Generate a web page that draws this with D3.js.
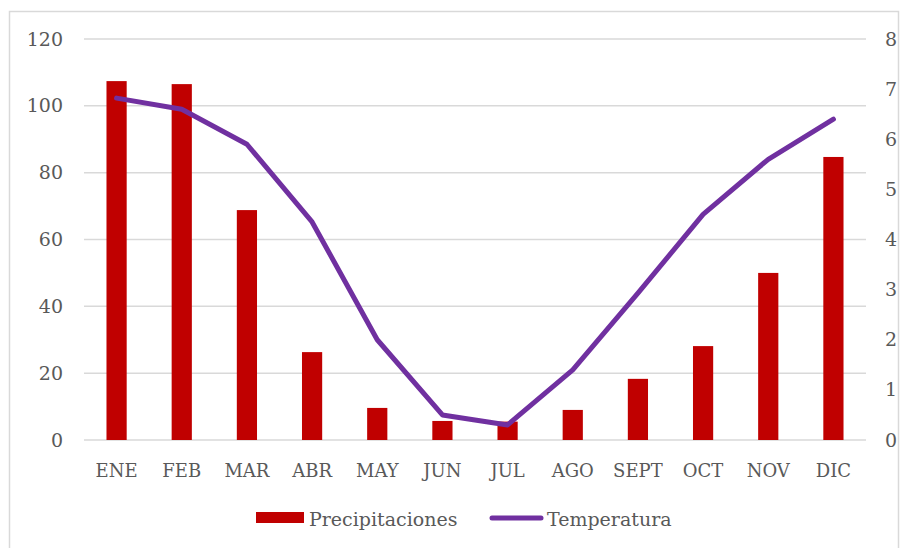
<!DOCTYPE html>
<html><head><meta charset="utf-8">
<script src="https://cdn.jsdelivr.net/npm/d3@7"></script>
<style>body{margin:0;background:#fff}svg{display:block}text{font-family:"DejaVu Serif",serif;fill:#595959}</style>
</head><body><svg id="c" width="903" height="548"></svg>
<script>
const categories = ["ENE","FEB","MAR","ABR","MAY","JUN","JUL","AGO","SEPT","OCT","NOV","DIC"];
const precipitaciones = [107.4,106.5,68.8,26.3,9.6,5.7,5.5,9,18.3,28.1,50,84.7];
const temperatura = [6.82,6.6,5.9,4.35,2.0,0.5,0.3,1.4,2.93,4.5,5.6,6.4];
const leftTicks = [0,20,40,60,80,100,120];
const rightTicks = [0,1,2,3,4,5,6,7,8];
const seriesNames = ["Precipitaciones","Temperatura"];

const svg = d3.select("#c");
svg.append("rect").attr("x",9.5).attr("y",11.5).attr("width",889).attr("height",545)
  .attr("fill","none").attr("stroke","#d9d9d9").attr("stroke-width",1.5);
const L=84,R=866,T=39,B=440;
const x = d3.scaleBand().domain(categories).range([L,R]).paddingInner(0.69).paddingOuter(0.345);
const yL = d3.scaleLinear().domain([0,120]).range([B,T]);
const yR = d3.scaleLinear().domain([0,8]).range([B,T]);

// gridlines
svg.append("g").selectAll("line").data(leftTicks).join("line")
  .attr("x1",L).attr("x2",R).attr("y1",d=>yL(d)).attr("y2",d=>yL(d))
  .attr("stroke","#d9d9d9").attr("stroke-width",1.5);

// left axis labels
const la = svg.append("g").attr("transform",`translate(${L-21},0)`)
  .call(d3.axisLeft(yL).tickValues(leftTicks).tickSize(0).tickPadding(0));
la.select(".domain").remove();
la.selectAll("text").attr("font-size",19).attr("font-family","DejaVu Serif").attr("fill","#595959");

// right axis labels
const ra = svg.append("g").attr("transform",`translate(${R+19},0)`)
  .call(d3.axisRight(yR).tickValues(rightTicks).tickSize(0).tickPadding(0));
ra.select(".domain").remove();
ra.selectAll("text").attr("font-size",19).attr("font-family","DejaVu Serif").attr("fill","#595959");

// x axis labels
const xa = svg.append("g").attr("transform",`translate(0,477)`)
  .call(d3.axisBottom(x).tickSize(0).tickPadding(0));
xa.select(".domain").remove();
xa.selectAll("text").attr("font-size",18).attr("font-family","DejaVu Serif").attr("fill","#595959").attr("dy","0");

// bars
svg.append("g").selectAll("rect").data(categories).join("rect")
  .attr("x",d=>x(d)).attr("width",x.bandwidth())
  .attr("y",(d,i)=>yL(precipitaciones[i])).attr("height",(d,i)=>B-yL(precipitaciones[i]))
  .attr("fill","#C00000");

// line
const line = d3.line().x((d,i)=>x(categories[i])+x.bandwidth()/2).y(d=>yR(d));
svg.append("path").datum(temperatura).attr("d",line).attr("fill","none")
  .attr("stroke","#7030A0").attr("stroke-width",5).attr("stroke-linejoin","round").attr("stroke-linecap","round");

// legend
const lg = svg.append("g");
lg.append("rect").attr("x",256).attr("y",512).attr("width",48).attr("height",11).attr("fill","#C00000");
lg.append("text").attr("x",309).attr("y",526).attr("font-size",19).text(seriesNames[0]);
lg.append("line").attr("x1",492).attr("x2",541).attr("y1",518).attr("y2",518)
  .attr("stroke","#7030A0").attr("stroke-width",5).attr("stroke-linecap","round");
lg.append("text").attr("x",547).attr("y",526).attr("font-size",19).text(seriesNames[1]);
</script></body></html>
